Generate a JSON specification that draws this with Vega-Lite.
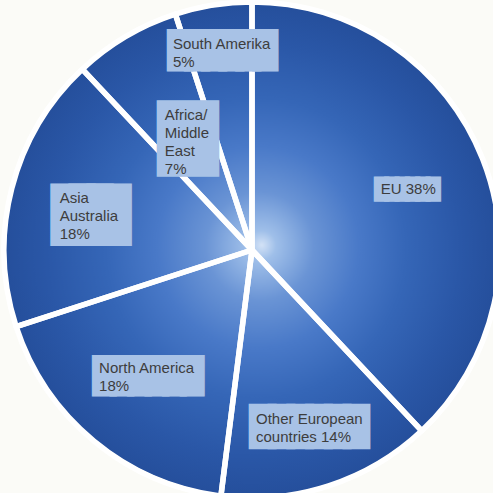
{
  "$schema": "https://vega.github.io/schema/vega-lite/v6.json",
  "width": 482,
  "height": 486,
  "autosize": "none",
  "padding": {"left": 11, "top": 7, "right": 0, "bottom": 0},
  "background": "#fbfbf7",
  "view": {"stroke": null},
  "layer": [
    {
      "data": {"values": [{"whole": 100}]},
      "mark": {
        "type": "arc",
        "radius": 246,
        "theta": 0,
        "theta2": 6.2832,
        "fill": {
          "gradient": "radial",
          "x1": 0.52, "y1": 0.49, "r1": 0,
          "x2": 0.5, "y2": 0.5, "r2": 0.5,
          "stops": [
            {"offset": 0, "color": "#d3e2f6"},
            {"offset": 0.06, "color": "#9fbfe9"},
            {"offset": 0.22, "color": "#6a94d5"},
            {"offset": 0.41, "color": "#4979c8"},
            {"offset": 0.61, "color": "#3566b7"},
            {"offset": 0.84, "color": "#2a57a7"},
            {"offset": 1, "color": "#254f9c"}
          ]
        }
      },
      "encoding": {}
    },
    {
      "data": {"values": [
        {"region": "EU", "share": 38, "label": "EU 38%"},
        {"region": "Other European countries", "share": 14, "label": "Other European\ncountries 14%"},
        {"region": "North America", "share": 18, "label": "North America\n18%"},
        {"region": "Asia Australia", "share": 18, "label": "Asia\nAustralia\n18%"},
        {"region": "Africa/Middle East", "share": 7, "label": "Africa/\nMiddle\nEast\n7%"},
        {"region": "South Amerika", "share": 5, "label": "South Amerika\n5%"}
      ]},
      "layer": [
        {
          "mark": {"type": "arc", "radius": 248, "fillOpacity": 0, "stroke": "#ffffff", "strokeWidth": 5.5, "strokeJoin": "round"},
          "encoding": {"theta": {"field": "share", "type": "quantitative", "stack": true}}
        },
        {
          "mark": {
            "type": "text",
            "font": "DejaVu Sans Mono",
            "fill": "#a8c2e6",
            "stroke": "#a8c2e6",
            "strokeJoin": "miter",
            "align": "center",
            "baseline": "middle",
            "dx": {"expr": "datum.region === 'South Amerika' || datum.region === 'Africa/Middle East' ? 2 : 0"},
            "dy": {"expr": "datum.region === 'Asia Australia' ? 7 : 1.5"},
            "radius": {"expr": "datum.region === 'EU' ? 167 : datum.region === 'Other European countries' ? 186 : datum.region === 'North America' ? 163 : datum.region === 'Asia Australia' ? 166 : datum.region === 'Africa/Middle East' ? 130 : 202"}
          },
          "encoding": {
            "theta": {"field": "share", "type": "quantitative", "stack": true},
            "text": {
              "condition": [
                {"test": "datum.region === 'Africa/Middle East'", "value": "█"},
                {"test": "datum.region === 'Asia Australia'", "value": "███"}
              ],
              "value": "██████"
            },
            "size": {
              "condition": [
                {"test": "datum.region === 'South Amerika'", "value": 28.3},
                {"test": "datum.region === 'Africa/Middle East'", "value": 24.6},
                {"test": "datum.region === 'Asia Australia'", "value": 29.9},
                {"test": "datum.region === 'EU'", "value": 17.2},
                {"test": "datum.region === 'North America'", "value": 29.1}
              ],
              "value": 31.1
            },
            "strokeWidth": {
              "condition": [
                {"test": "datum.region === 'South Amerika'", "value": 8.9},
                {"test": "datum.region === 'Africa/Middle East'", "value": 47.2},
                {"test": "datum.region === 'Asia Australia'", "value": 27},
                {"test": "datum.region === 'EU'", "value": 4.9},
                {"test": "datum.region === 'North America'", "value": 7}
              ],
              "value": 8.6
            }
          }
        },
        {
          "mark": {
            "type": "text",
            "font": "Liberation Sans",
            "fontSize": 15,
            "fill": "#3d3d3d",
            "align": "left",
            "baseline": "middle",
            "lineBreak": "\n",
            "lineHeight": 18.2,
            "text": {"expr": "datum.label"},
            "dy": {"expr": "datum.region === 'Asia Australia' ? -11 : datum.region === 'Africa/Middle East' ? -23.5 : datum.region === 'EU' ? 0 : datum.region === 'South Amerika' ? -6.5 : -8"},
            "radius": {"expr": "datum.region === 'EU' ? 167 : datum.region === 'Other European countries' ? 186 : datum.region === 'North America' ? 163 : datum.region === 'Asia Australia' ? 166 : datum.region === 'Africa/Middle East' ? 130 : 202"},
            "dx": {"expr": "datum.region === 'EU' ? -26.5 : datum.region === 'Other European countries' ? -53.5 : datum.region === 'North America' ? -49 : datum.region === 'Asia Australia' ? -31.5 : datum.region === 'Africa/Middle East' ? -21 : -47.5"}
          },
          "encoding": {
            "theta": {"field": "share", "type": "quantitative", "stack": true}
          }
        }
      ]
    }
  ]
}
